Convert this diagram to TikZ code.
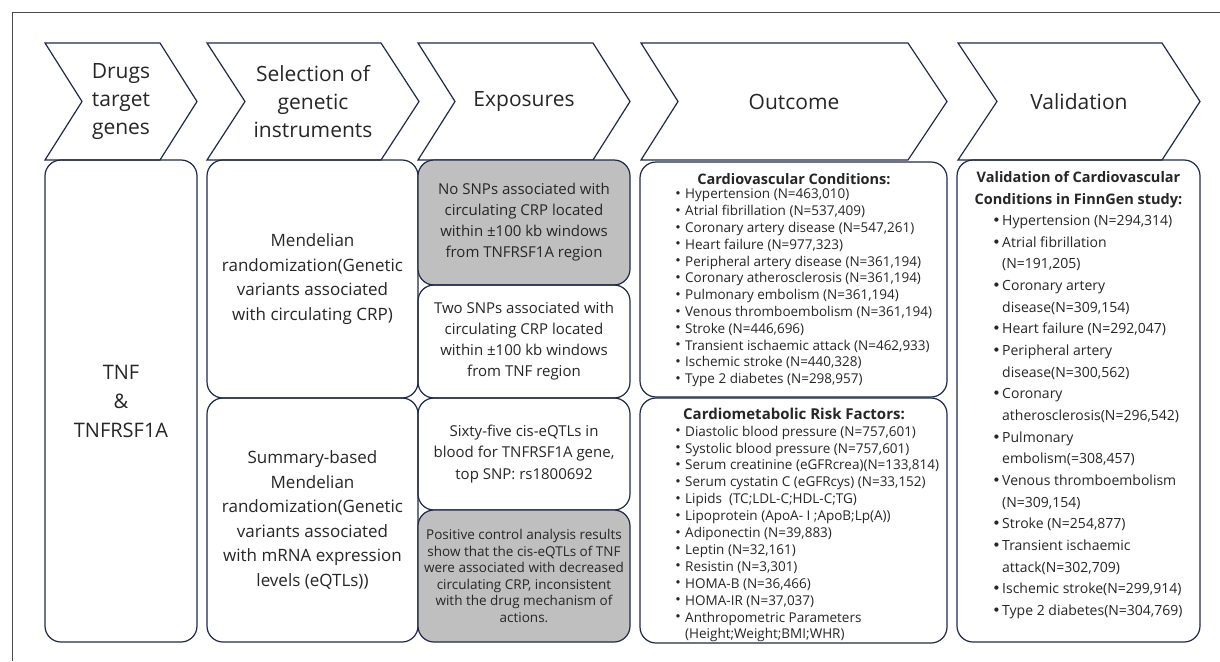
\documentclass[tikz,border=0pt]{standalone}
\usepackage{fontspec}
\setmainfont{Open Sans}
\newfontfamily\symfont{DejaVu Sans}
\definecolor{navy}{HTML}{1F2A4A}
\definecolor{gfill}{HTML}{BFBFBF}
\definecolor{txt}{HTML}{262626}
\definecolor{framec}{HTML}{4A4A4A}
\newcommand{\bl}{\makebox[9pt][l]{\raisebox{4.5pt}{\symfont\fontsize{4.5}{5}\selectfont ●}}}
\newcommand{\vbl}{\makebox[8pt][l]{\raisebox{4pt}{\symfont\fontsize{5.5}{6}\selectfont ●}}}
\newcommand{\ind}{\hspace*{8pt}}
\begin{document}
\begin{tikzpicture}[x=1pt,y=-1pt,
  chev/.style={draw=navy, line width=1.2pt, line join=miter},
  chevtext/.style={text=txt, align=center, font=\fontsize{21}{28}\selectfont},
  box/.style={draw=navy, line width=1.2pt, rounded corners=16pt, inner sep=0pt, text=txt, align=center},
  graybox/.style={box, fill=gfill},
  listtext/.style={text=txt, align=left, inner sep=0pt}]
\useasboundingbox (0,0) rectangle (1220,661);
\fill[white] (0,0) rectangle (1220,661);
\draw[framec, line width=1pt] (12,661) -- (12,13) -- (1220,13);
% chevrons
\draw[chev] (45,43) -- (160,43) -- (197,101.5) -- (160,160) -- (45,160) -- (82,101.5) -- cycle;
\draw[chev] (207,43) -- (381,43) -- (419,101.5) -- (381,160) -- (207,160) -- (245,101.5) -- cycle;
\draw[chev] (418,43) -- (593,43) -- (630,101.5) -- (593,160) -- (418,160) -- (455,101.5) -- cycle;
\draw[chev] (641,43) -- (908,43) -- (947,101.5) -- (908,160) -- (641,160) -- (678,101.5) -- cycle;
\draw[chev] (958,43) -- (1162,43) -- (1200,101.5) -- (1162,160) -- (958,160) -- (997,101.5) -- cycle;
\node[chevtext] (c1) at (121,102) {Drugs\\target\\genes};
\node[chevtext] (c2) at (313,102) {Selection of\\genetic\\instruments};
\node[chevtext] (c3) at (524,102) {Exposures};
\node[chevtext] (c4) at (794,102) {Outcome};
\node[chevtext] (c5) at (1079,102) {Validation};
% column 1
\node[box, minimum width=152pt, minimum height=482pt, font=\fontsize{20}{29}\selectfont] (tnf) at (121,401) {TNF\\\&\\TNFRSF1A};
% column 2
\node[box, minimum width=211pt, minimum height=238pt, font=\fontsize{17}{24.5}\selectfont] (mr) at (312.5,279) {Mendelian\\randomization(Genetic\\variants associated\\with circulating CRP)};
\node[box, minimum width=211pt, minimum height=244pt, font=\fontsize{17}{24.5}\selectfont] (smr) at (312.5,520) {Summary-based\\Mendelian\\randomization(Genetic\\variants associated\\with mRNA expression\\levels (eQTLs))};
% column 3
\node[graybox, minimum width=212pt, minimum height=125pt, font=\fontsize{15}{21}\selectfont] (e1) at (524,222.5) {No SNPs associated with\\circulating CRP located\\within ±100 kb windows\\from TNFRSF1A region};
\node[box, minimum width=212pt, minimum height=113pt, font=\fontsize{15}{21}\selectfont] (e2) at (524,341.5) {Two SNPs associated with\\circulating CRP located\\within ±100 kb windows\\from TNF region};
\node[box, minimum width=212pt, minimum height=112pt, font=\fontsize{15}{21.5}\selectfont] (e3) at (524,454) {Sixty-five cis-eQTLs in\\blood for TNFRSF1A gene,\\top SNP: rs1800692};
\node[graybox, minimum width=212pt, minimum height=132pt, font=\fontsize{13.5}{16.6}\selectfont] (e4) at (524,576) {Positive control analysis results\\show that the cis-eQTLs of TNF\\were associated with decreased\\circulating CRP, inconsistent\\with the drug mechanism of\\actions.};
% column 4
\node[box, minimum width=307pt, minimum height=235pt] (o1) at (793.5,279.5) {};
\node[box, minimum width=307pt, minimum height=245pt] (o2) at (793.5,520.5) {};
\node[text=txt, font=\fontsize{14.5}{16}\selectfont\bfseries] (o1t) at (794,179) {Cardiovascular Conditions:};
\node[listtext, anchor=west, font=\fontsize{13.5}{16.8}\selectfont] (o1l) at (676,288) {%
\bl Hypertension (N=463,010)\\
\bl Atrial fibrillation (N=537,409)\\
\bl Coronary artery disease (N=547,261)\\
\bl Heart failure (N=977,323)\\
\bl Peripheral artery disease (N=361,194)\\
\bl Coronary atherosclerosis (N=361,194)\\
\bl Pulmonary embolism (N=361,194)\\
\bl Venous thromboembolism (N=361,194)\\
\bl Stroke (N=446,696)\\
\bl Transient ischaemic attack (N=462,933)\\
\bl Ischemic stroke (N=440,328)\\
\bl Type 2 diabetes (N=298,957)};
\node[text=txt, font=\fontsize{15}{16}\selectfont\bfseries] (o2t) at (794,414) {Cardiometabolic Risk Factors:};
\node[listtext, anchor=west, font=\fontsize{13.5}{16.9}\selectfont] (o2l) at (676,534) {%
\bl Diastolic blood pressure (N=757,601)\\
\bl Systolic blood pressure (N=757,601)\\
\bl Serum creatinine (eGFRcrea)(N=133,814)\\
\bl Serum cystatin C (eGFRcys) (N=33,152)\\
\bl Lipids\ \ (TC;LDL-C;HDL-C;TG)\\
\bl Lipoprotein (ApoA- I ;ApoB;Lp(A))\\
\bl Adiponectin (N=39,883)\\
\bl Leptin (N=32,161)\\
\bl Resistin (N=3,301)\\
\bl HOMA-B (N=36,466)\\
\bl HOMA-IR (N=37,037)\\
\bl Anthropometric Parameters\\
\hspace*{9pt}(Height;Weight;BMI;WHR)};
% column 5
\node[box, minimum width=243pt, minimum height=482pt] (v) at (1078.5,401) {};
\node[text=txt, align=center, font=\fontsize{14.5}{22}\selectfont\bfseries] (vt) at (1078.5,190) {Validation of Cardiovascular\\Conditions in FinnGen study:};
\node[listtext, anchor=west, font=\fontsize{14}{21.67}\selectfont] (vl) at (994,417) {%
\vbl Hypertension (N=294,314)\\
\vbl Atrial fibrillation\\
\ind(N=191,205)\\
\vbl Coronary artery\\
\ind disease(N=309,154)\\
\vbl Heart failure (N=292,047)\\
\vbl Peripheral artery\\
\ind disease(N=300,562)\\
\vbl Coronary\\
\ind atherosclerosis(N=296,542)\\
\vbl Pulmonary\\
\ind embolism(=308,457)\\
\vbl Venous thromboembolism\\
\ind (N=309,154)\\
\vbl Stroke (N=254,877)\\
\vbl Transient ischaemic\\
\ind attack(N=302,709)\\
\vbl Ischemic stroke(N=299,914)\\
\vbl Type 2 diabetes(N=304,769)};
\end{tikzpicture}
\end{document}
